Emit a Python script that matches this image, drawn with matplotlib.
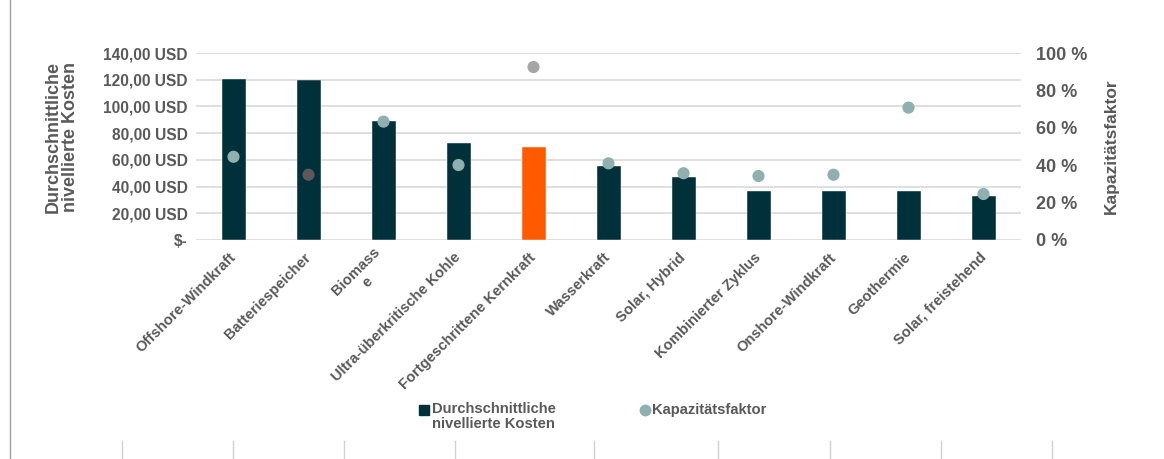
import numpy as np
import matplotlib.pyplot as plt
from matplotlib.lines import Line2D

plt.rcParams['font.family'] = ['Liberation Sans', 'DejaVu Sans']
plt.rcParams['font.weight'] = 'bold'

categories = ['Offshore-Windkraft', 'Batteriespeicher', 'Biomass\ne', 'Ultra-überkritische Kohle',
              'Fortgeschrittene Kernkraft', 'Wasserkraft', 'Solar, Hybrid', 'Kombinierter Zyklus',
              'Onshore-Windkraft', 'Geothermie', 'Solar, freistehend']
kosten = [120.3, 119.6, 89.1, 72.4, 69.4, 55.7, 47.2, 36.9, 36.9, 36.9, 32.9]
kapazitaet = [44.5, 34.9, 63.3, 40.1, 92.5, 41.0, 35.7, 34.2, 34.9, 70.8, 24.6]

dark = '#00303A'
orange = '#FF5A00'
teal = '#8FB0AE'
grey_txt = '#595959'
bar_colors = [dark] * len(categories)
bar_colors[4] = orange
pt_colors = [teal] * len(categories)
pt_colors[1] = '#5E5858'
pt_colors[4] = '#A6A6A6'

W, H = 1164, 459
fig = plt.figure(figsize=(W / 100, H / 100), dpi=100)
ax = fig.add_axes([196 / W, 1 - 240 / H, 825 / W, 187 / H])
x = np.arange(len(categories))
ax.bar(x, kosten, width=0.32, color=bar_colors, zorder=2, edgecolor='white', linewidth=0.3)
ax.set_xlim(-0.5, len(categories) - 0.5)
ax.set_ylim(0, 140)
ax.set_yticks(np.arange(0, 141, 20))
ax.set_yticklabels(['$-'] + ['{},00 USD'.format(v) for v in range(20, 141, 20)])
ax.grid(axis='y', color='#DCDCDC', linewidth=1.3, zorder=0)
for s in ax.spines.values():
    s.set_visible(False)
ax.tick_params(axis='both', length=0, colors=grey_txt)
ax.tick_params(axis='y', labelsize=11.2, pad=6)
ax.set_xticks(x)
ax.set_xticklabels(categories, rotation=45, ha='right', va='center', rotation_mode='anchor',
                   fontsize=10.6, multialignment='center')
ax.tick_params(axis='x', pad=11)
ax.set_ylabel('Durchschnittliche\nnivellierte Kosten', fontsize=13, color=grey_txt,
              fontweight='bold', linespacing=1.0)
ax.yaxis.set_label_coords(-0.142, 0.55)

ax2 = ax.twinx()
ax2.scatter(x, kapazitaet, s=60, color=pt_colors, zorder=3)
ax2.set_ylim(0, 100)
ax2.set_yticks(np.arange(0, 101, 20))
ax2.set_yticklabels(['{} %'.format(v) for v in range(0, 101, 20)])
for s in ax2.spines.values():
    s.set_visible(False)
ax2.tick_params(axis='y', length=0, colors=grey_txt, labelsize=13, pad=11)
ax2.set_ylabel('Kapazitätsfaktor', fontsize=12.5, color=grey_txt, fontweight='bold')
ax2.yaxis.set_label_coords(1.100, 0.50)

# legend drawn by hand to match spacing
fig.add_artist(Line2D([424 / W], [1 - 410 / H], marker='s', color=dark, markersize=6.5,
                      linestyle='none'))
fig.text(432 / W, 1 - 402 / H, 'Durchschnittliche\nnivellierte Kosten', fontsize=10.6,
         color=grey_txt, va='top', ha='left', linespacing=1.05)
fig.add_artist(Line2D([645 / W], [1 - 410 / H], marker='o', color=teal, markersize=7.5,
                      linestyle='none'))
fig.text(652 / W, 1 - 410 / H, 'Kapazitätsfaktor', fontsize=10.6,
         color=grey_txt, va='center', ha='left')

# frame decorations
fig.add_artist(Line2D([10 / W, 10 / W], [0, 1], color='#A0A0A0', linewidth=1))
for px in [122, 233, 344, 455, 594, 718, 830, 941, 1052]:
    fig.add_artist(Line2D([px / W, px / W], [0, 18 / H], color='#D0D0D0', linewidth=1))

fig.savefig('out.png', dpi=100)
